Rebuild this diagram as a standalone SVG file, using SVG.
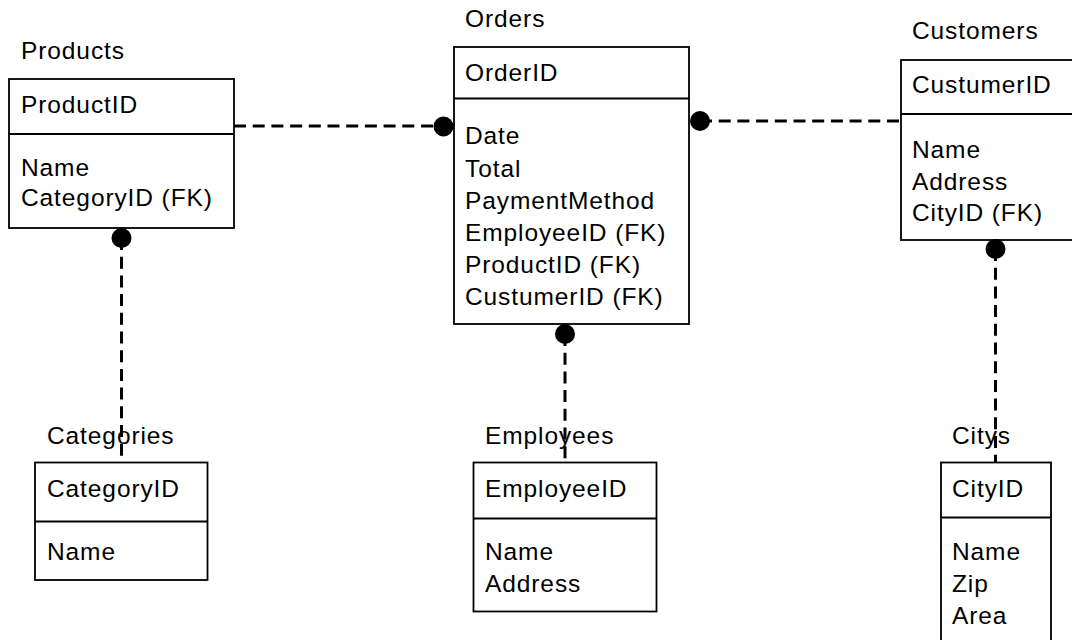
<svg xmlns="http://www.w3.org/2000/svg" width="1072" height="640" viewBox="0 0 1072 640">
  <style>
    text { font-family: "Liberation Sans", Arial, sans-serif; font-size: 24.5px; letter-spacing: 0.9px; fill: #000; }
    .box { fill: #fff; stroke: #000; stroke-width: 1.8; }
    .div { stroke: #000; stroke-width: 1.8; }
    .rel { fill: none; stroke: #000; stroke-width: 3; stroke-dasharray: 12 6.7; }
    .knob { fill: #000; }
  </style>
  <rect width="1072" height="640" fill="#fff"/>

  <!-- Products table -->
  <g id="products">
    <text x="21" y="59">Products</text>
    <rect class="box" x="9" y="79" width="225" height="149"/>
    <line class="div" x1="9" y1="134" x2="234" y2="134"/>
    <text x="21" y="113">ProductID</text>
    <text x="21" y="176">Name</text>
    <text x="21" y="206">CategoryID (FK)</text>
  </g>

  <!-- Orders table -->
  <g id="orders">
    <text x="465" y="27">Orders</text>
    <rect class="box" x="454" y="47" width="235" height="277"/>
    <line class="div" x1="454" y1="98.5" x2="689" y2="98.5"/>
    <text x="465" y="81">OrderID</text>
    <text x="465" y="144">Date</text>
    <text x="465" y="176.5">Total</text>
    <text x="465" y="208.5">PaymentMethod</text>
    <text x="465" y="241">EmployeeID (FK)</text>
    <text x="465" y="273">ProductID (FK)</text>
    <text x="465" y="305">CustumerID (FK)</text>
  </g>

  <!-- Customers table -->
  <g id="customers">
    <text x="912" y="39">Customers</text>
    <rect class="box" x="901" y="60" width="180" height="180"/>
    <line class="div" x1="901" y1="114" x2="1081" y2="114"/>
    <text x="912" y="93">CustumerID</text>
    <text x="912" y="158">Name</text>
    <text x="912" y="190">Address</text>
    <text x="912" y="221">CityID (FK)</text>
  </g>

  <!-- Categories table -->
  <g id="categories">
    <text x="47" y="444">Categories</text>
    <rect class="box" x="35" y="462.5" width="172.5" height="117.5"/>
    <line class="div" x1="35" y1="521.5" x2="207.5" y2="521.5"/>
    <text x="47" y="497">CategoryID</text>
    <text x="47" y="559.5">Name</text>
  </g>

  <!-- Employees table -->
  <g id="employees">
    <text x="485" y="443.5">Employees</text>
    <rect class="box" x="473.5" y="462.5" width="183" height="149"/>
    <line class="div" x1="473.5" y1="518.5" x2="656.5" y2="518.5"/>
    <text x="485" y="497">EmployeeID</text>
    <text x="485" y="559.5">Name</text>
    <text x="485" y="591.5">Address</text>
  </g>

  <!-- Citys table -->
  <g id="citys">
    <text x="952" y="443.5">Citys</text>
    <rect class="box" x="941" y="462.5" width="110" height="190"/>
    <line class="div" x1="941" y1="517.5" x2="1051" y2="517.5"/>
    <text x="952" y="497">CityID</text>
    <text x="952" y="559.5">Name</text>
    <text x="952" y="591.5">Zip</text>
    <text x="952" y="624">Area</text>
  </g>

  <!-- Relationships: dashed lines with a filled knob on the referencing side -->
  <g id="connectors">
    <path class="rel" d="M234 126 H443"/>
    <circle class="knob" cx="443.5" cy="126.5" r="10"/>

    <path class="rel" d="M700 121 H901"/>
    <circle class="knob" cx="700" cy="121" r="10"/>

    <path class="rel" d="M121.5 238 V462.5"/>
    <circle class="knob" cx="121.5" cy="238" r="10"/>

    <path class="rel" d="M565 334 V462.5"/>
    <circle class="knob" cx="565" cy="334" r="10"/>

    <path class="rel" d="M995.5 249 V462.5"/>
    <circle class="knob" cx="995.5" cy="249" r="10"/>
  </g>
</svg>
